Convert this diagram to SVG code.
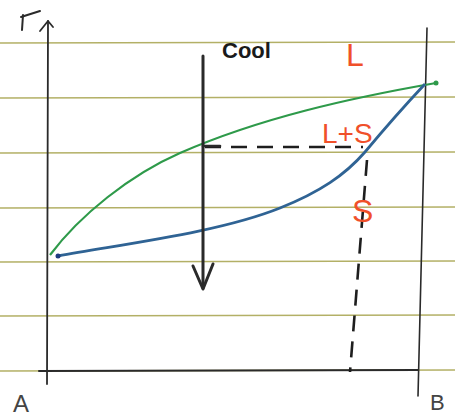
<svg xmlns="http://www.w3.org/2000/svg" width="455" height="416" viewBox="0 0 455 416">
<style>
.paper{stroke:#b3b066;stroke-width:1.6;fill:none}
.ink{stroke:#2a2a2a;fill:none;stroke-linecap:round;stroke-linejoin:round}
.dash{stroke:#1e1e1e;stroke-width:2.6;fill:none;stroke-dasharray:16 10}
.red{fill:#f0502a;font-family:"Liberation Sans",sans-serif}
.lbl{fill:#444;font-family:"Liberation Sans",sans-serif}
</style>
<rect width="455" height="416" fill="#ffffff"/>
<g id="paper">
<line class="paper" x1="0" y1="43" x2="455" y2="42"/>
<line class="paper" x1="0" y1="98" x2="455" y2="97"/>
<line class="paper" x1="0" y1="153" x2="455" y2="152"/>
<line class="paper" x1="0" y1="208" x2="455" y2="207"/>
<line class="paper" x1="0" y1="262" x2="455" y2="261"/>
<line class="paper" x1="0" y1="316" x2="455" y2="315"/>
<line class="paper" x1="0" y1="371" x2="455" y2="370"/>
</g>
<g id="axes">
<line class="ink" x1="48" y1="21" x2="47" y2="384" stroke-width="1.8"/>
<polyline class="ink" points="40,31 48,21 53,27" stroke-width="1.8"/>
<polyline class="ink" points="21,17 40,11" stroke-width="2" stroke="#555"/>
<line class="ink" x1="23" y1="15" x2="22" y2="30" stroke-width="2" stroke="#555"/>
<line class="ink" x1="39" y1="371" x2="418" y2="370" stroke="#555" stroke-width="2"/>
<line class="ink" x1="427" y1="28" x2="418" y2="396" stroke="#666" stroke-width="1.6"/>
<text class="lbl" x="13" y="412" font-size="24">A</text>
<text class="lbl" x="430" y="410" font-size="22">B</text>
</g>
<g id="curves">
<path d="M50,255 C80,215 130,175 180,153 C260,118 350,98 436,83" fill="none" stroke="#2e9a4a" stroke-width="2.2"/>
<circle cx="436" cy="83" r="2.5" fill="#2e9a4a"/>
<path d="M58,256 C130,243 220,232 280,208 C320,192 345,175 365,152 C390,122 410,100 425,84" fill="none" stroke="#2f6394" stroke-width="2.8"/>
<circle cx="58" cy="256" r="2.5" fill="#1e3b80"/>
</g>
<g id="connectors">
<line class="dash" x1="205" y1="147" x2="363" y2="147"/>
<line class="dash" x1="367" y1="160" x2="350" y2="372"/>
</g>
<g id="cool">
<line class="ink" x1="203" y1="56" x2="203" y2="288" stroke-width="3"/>
<polyline class="ink" points="193,266 203,289 213,264" stroke-width="3"/>
<line class="ink" x1="203" y1="146" x2="220" y2="146" stroke-width="2.6"/>
<text x="222" y="58" font-family="Liberation Sans,sans-serif" font-size="22" font-weight="bold" fill="#1a1a1a">Cool</text>
</g>
<g id="labels">
<text class="red" x="346" y="66" font-size="32">L</text>
<text class="red" x="322" y="143" font-size="28">L+S</text>
<text class="red" x="352" y="222" font-size="32">S</text>
</g>
</svg>
